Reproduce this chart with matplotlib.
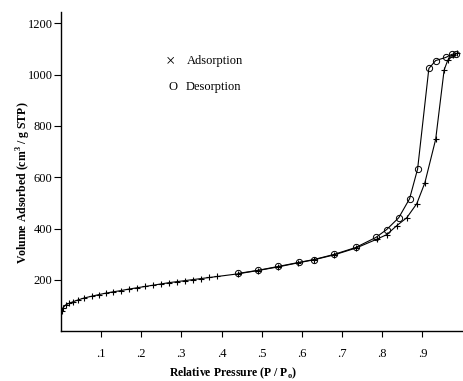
import matplotlib.pyplot as plt

plt.rcParams['font.family'] = ['Liberation Serif', 'DejaVu Serif']

# adsorption branch (P/P0, cm3/g STP)
ads_p = [0.002, 0.005, 0.012, 0.02, 0.03, 0.042, 0.058, 0.077, 0.094, 0.112,
         0.13, 0.15, 0.17, 0.19, 0.21, 0.23, 0.25, 0.27, 0.29, 0.31,
         0.33, 0.35, 0.37, 0.39, 0.44, 0.49, 0.54, 0.59, 0.63, 0.68,
         0.735, 0.786, 0.811, 0.836, 0.861, 0.886, 0.906, 0.933, 0.954,
         0.963, 0.977, 0.985]
ads_v = [80, 90, 102, 108, 114, 121, 129, 136, 142, 148,
         153, 158, 164, 169, 174, 179, 184, 189, 193, 197,
         201, 205, 209, 213, 223, 236, 250, 266, 278, 297,
         324, 358, 376, 411, 442, 497, 578, 748, 1018,
         1056, 1075, 1083]

# desorption branch
des_p = [0.983, 0.973, 0.958, 0.933, 0.916, 0.888, 0.868, 0.841, 0.811,
         0.784, 0.734, 0.68, 0.63, 0.593, 0.541, 0.491, 0.442]
des_v = [1081, 1079, 1067, 1055, 1024, 632, 516, 442, 396,
         365, 326, 299, 279, 268, 252, 237, 225]

x_ticks = [0.1, 0.2, 0.3, 0.4, 0.5, 0.6, 0.7, 0.8, 0.9]
x_labels = ['.1', '.2', '.3', '.4', '.5', '.6', '.7', '.8', '.9']
y_ticks = [200, 400, 600, 800, 1000, 1200]

fig = plt.figure(figsize=(4.64, 3.81), dpi=100)
ax = fig.add_axes([0.131, 0.131, 0.866, 0.838])

ax.plot(ads_p, ads_v, color='black', lw=0.8, marker='+', ms=5, mew=0.8)
ax.plot(des_p, des_v, color='black', lw=0.8, marker='o', ms=4.5, mew=0.7,
        mfc='none')

ax.set_xlim(0, 1.0)
ax.set_ylim(0, 1245)
ax.set_xticks(x_ticks)
ax.set_xticklabels(x_labels)
ax.set_yticks(y_ticks)
ax.tick_params(axis='x', direction='out', length=4, width=0.8, pad=8, labelsize=9)
ax.tick_params(axis='y', direction='out', length=5, width=0.8, pad=1, labelsize=9)

for side in ['top', 'right']:
    ax.spines[side].set_visible(False)
for side in ['left', 'bottom']:
    ax.spines[side].set_linewidth(1.0)

ax.set_xlabel('Relative Pressure (P / P$_\\mathregular{o}$)', fontsize=8.5,
              fontweight='bold', va='center', ha='center')
ax.xaxis.set_label_coords(0.43, -0.132)
ax.set_ylabel('Volume Adsorbed (cm$^\\mathregular{3}$ / g STP)', fontsize=8.5,
              fontweight='bold', va='center', ha='center')
ax.yaxis.set_label_coords(-0.092, 0.464)

# legend drawn as text, like the original
fig.text(170 / 464, 1 - 61 / 381, '×', fontsize=12, ha='center', va='center')
fig.text(187 / 464, 1 - 61 / 381, 'Adsorption', fontsize=9, ha='left', va='center')
fig.text(173 / 464, 1 - 87 / 381, 'O', fontsize=9, ha='center', va='center')
fig.text(186 / 464, 1 - 87 / 381, 'Desorption', fontsize=9, ha='left', va='center')

fig.savefig('out.png', dpi=100)
